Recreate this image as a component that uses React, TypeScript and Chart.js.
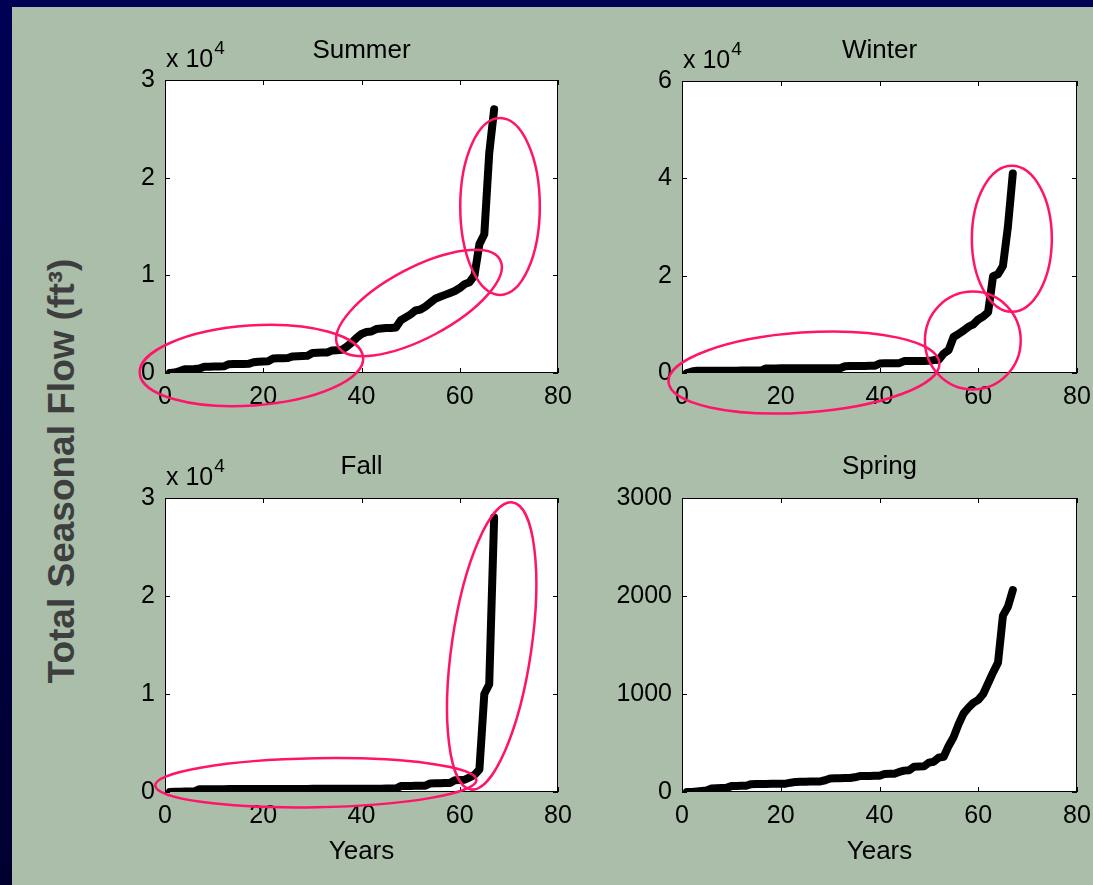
import React, { useEffect, useRef } from 'react';
import { Chart, registerables } from 'chart.js';

Chart.register(...registerables);

// ---------------- data ----------------
const YEARS = Array.from({ length: 67 }, (_, i) => i + 1);

const SUMMER_FLOW = [
  0, 50, 200, 380, 380, 400, 450, 640, 650, 660,
  670, 680, 900, 910, 920, 930, 940, 1100, 1150, 1170,
  1200, 1480, 1500, 1520, 1540, 1700, 1720, 1740, 1760, 2050,
  2070, 2090, 2100, 2300, 2340, 2380, 2700, 3100, 3600, 4000,
  4200, 4250, 4500, 4550, 4600, 4600, 4650, 5400, 5700, 6000,
  6400, 6500, 6800, 7200, 7600, 7800, 8000, 8200, 8400, 8700,
  9100, 9300, 10000, 13200, 14200, 22500, 27000,
];

const WINTER_FLOW = [
  0, 300, 450, 460, 460, 470, 470, 470, 480, 480,
  480, 490, 490, 490, 500, 500, 950, 950, 950, 960,
  960, 960, 960, 970, 970, 970, 970, 980, 980, 980,
  990, 990, 1400, 1420, 1440, 1450, 1460, 1470, 1480, 1950,
  1980, 2000, 2010, 2020, 2450, 2460, 2470, 2480, 2490, 2500,
  2650, 2700, 4000, 4700, 7400, 8000, 8700, 9500, 10000, 11000,
  11600, 12500, 19900, 20300, 22000, 30000, 41000,
];

const FALL_FLOW = [
  0, 20, 30, 40, 50, 60, 280, 285, 285, 290,
  290, 290, 295, 295, 295, 300, 300, 300, 300, 305,
  305, 305, 310, 310, 310, 310, 315, 315, 315, 320,
  320, 320, 325, 325, 325, 330, 330, 330, 335, 335,
  335, 340, 340, 340, 345, 345, 350, 600, 610, 620,
  630, 640, 650, 880, 890, 900, 910, 920, 1200, 1220,
  1250, 1500, 1750, 2300, 10000, 11000, 28000,
];

const SPRING_FLOW = [
  0, 0, 5, 10, 15, 35, 38, 40, 42, 60,
  62, 63, 64, 80, 81, 82, 82, 83, 83, 84,
  85, 95, 103, 104, 105, 106, 107, 108, 120, 138,
  140, 141, 142, 143, 150, 162, 163, 164, 165, 166,
  183, 185, 187, 205, 218, 222, 258, 260, 262, 300,
  309, 350, 360, 470, 560, 690, 800, 860, 910, 940,
  1000, 1110, 1220, 1320, 1800, 1890, 2060,
];

// highlighted regions: centre (year, flow), semi-axes (years, flow), rotation (deg)
const SUMMER_ELLIPSES = [
  { x: 17.6, y: 770, rx: 22.8, ry: 4100, rot: -4 },
  { x: 51.7, y: 7170, rx: 18.7, ry: 3600, rot: -28 },
  { x: 68.2, y: 17050, rx: 8.1, ry: 9060, rot: 0 },
];
const WINTER_ELLIPSES = [
  { x: 24.7, y: 100, rx: 27.5, ry: 8220, rot: -4 },
  { x: 58.9, y: 6680, rx: 9.7, ry: 10070, rot: 0 },
  { x: 66.8, y: 27570, rx: 8.1, ry: 15000, rot: 0 },
];
const FALL_ELLIPSES = [
  { x: 30.7, y: 940, rx: 32.7, ry: 2500, rot: -1 },
  { x: 66.5, y: 14900, rx: 8.1, ry: 14800, rot: 8.3 },
];
const SPRING_ELLIPSES: any[] = [];

const X_MIN = 0;
const X_MAX = 80;
const X_STEP = 20;

// ---------------- styling ----------------
const FONT = '"Liberation Sans", Arial, Helvetica, sans-serif';
const SAGE = '#aabeaa';
const ELLIPSE_COLOR = '#ff1469';
const Y_AXIS_W = 110;
const X_AXIS_H = 80;
const PAD_TOP = 75;
const PAD_RIGHT = 50;

const PANELS = [
  { key: 'summer', title: 'Summer', values: SUMMER_FLOW, yMax: 30000, yStep: 10000, divisor: 10000, exponent: '4', ellipses: SUMMER_ELLIPSES, xTitle: '', box: { left: 165, top: 80, width: 393, height: 293 }, titleOffset: 29 },
  { key: 'winter', title: 'Winter', values: WINTER_FLOW, yMax: 60000, yStep: 20000, divisor: 10000, exponent: '4', ellipses: WINTER_ELLIPSES, xTitle: '', box: { left: 682, top: 81, width: 395, height: 292 }, titleOffset: 30 },
  { key: 'fall', title: 'Fall', values: FALL_FLOW, yMax: 30000, yStep: 10000, divisor: 10000, exponent: '4', ellipses: FALL_ELLIPSES, xTitle: 'Years', box: { left: 165, top: 498, width: 393, height: 294 }, titleOffset: 31 },
  { key: 'spring', title: 'Spring', values: SPRING_FLOW, yMax: 3000, yStep: 1000, divisor: 1, exponent: '', ellipses: SPRING_ELLIPSES, xTitle: 'Years', box: { left: 682, top: 498, width: 395, height: 294 }, titleOffset: 31 },
];

const matlabPlugin = {
  id: 'matlabBox',
  beforeDraw(chart: any) {
    const { ctx, chartArea: a } = chart;
    ctx.save();
    ctx.fillStyle = '#ffffff';
    ctx.fillRect(a.left, a.top, a.right - a.left, a.bottom - a.top);
    ctx.restore();
  },
  afterDraw(chart: any, _args: any, opts: any) {
    const { ctx, chartArea: a, scales } = chart;
    const xs = scales.x;
    const ys = scales.y;
    ctx.save();
    // box
    ctx.strokeStyle = '#000';
    ctx.lineWidth = 1;
    ctx.strokeRect(a.left + 0.5, a.top + 0.5, a.right - a.left - 1, a.bottom - a.top - 1);
    // inward ticks
    const tl = 5;
    ctx.beginPath();
    xs.ticks.forEach((t: any) => {
      const px = Math.round(xs.getPixelForValue(t.value)) + 0.5;
      ctx.moveTo(px, a.bottom);
      ctx.lineTo(px, a.bottom - tl);
      ctx.moveTo(px, a.top);
      ctx.lineTo(px, a.top + tl);
    });
    ys.ticks.forEach((t: any) => {
      const py = Math.round(ys.getPixelForValue(t.value)) + 0.5;
      ctx.moveTo(a.left, py);
      ctx.lineTo(a.left + tl, py);
      ctx.moveTo(a.right, py);
      ctx.lineTo(a.right - tl, py);
    });
    ctx.stroke();

    // ellipses
    ctx.strokeStyle = ELLIPSE_COLOR;
    ctx.lineWidth = 2.5;
    (opts.ellipses || []).forEach((e: any) => {
      const cx = xs.getPixelForValue(e.x);
      const cy = ys.getPixelForValue(e.y);
      const rx = Math.abs(xs.getPixelForValue(e.x + e.rx) - cx);
      const ry = Math.abs(ys.getPixelForValue(e.y + e.ry) - cy);
      ctx.beginPath();
      ctx.ellipse(cx, cy, rx, ry, (e.rot * Math.PI) / 180, 0, Math.PI * 2);
      ctx.stroke();
    });

    // title
    ctx.fillStyle = '#000';
    ctx.font = `26px ${FONT}`;
    ctx.textAlign = 'center';
    ctx.textBaseline = 'middle';
    ctx.fillText(opts.title, (a.left + a.right) / 2, a.top - opts.titleOffset);

    // exponent
    if (opts.exponent) {
      ctx.textAlign = 'left';
      ctx.textBaseline = 'alphabetic';
      ctx.font = `25px ${FONT}`;
      const base = 'x 10';
      ctx.fillText(base, a.left + 1, a.top - 13);
      const w = ctx.measureText(base).width;
      ctx.font = `19px ${FONT}`;
      ctx.fillText(opts.exponent, a.left + 2 + w, a.top - 26);
    }
    ctx.restore();
  },
};

function Panel({ panel }: { panel: any }) {
  const ref = useRef<HTMLCanvasElement>(null);
  const W = panel.box.width + Y_AXIS_W + PAD_RIGHT;
  const H = panel.box.height + PAD_TOP + X_AXIS_H;
  useEffect(() => {
    const canvas = ref.current!;
    const tickFont = { family: FONT, size: 25 };
    const chart = new Chart(canvas, {
      type: 'line',
      data: {
        datasets: [
          {
            data: panel.values.map((v: number, i: number) => ({ x: YEARS[i], y: v })),
            borderColor: '#000000',
            borderWidth: 8,
            pointRadius: 0,
            tension: 0,
            fill: false,
            borderCapStyle: 'round',
            borderJoinStyle: 'round',
          } as any,
        ],
      },
      options: {
        responsive: false,
        animation: false,
        events: [],
        layout: { padding: { left: 0, top: PAD_TOP, right: PAD_RIGHT, bottom: 0 } },
        plugins: {
          legend: { display: false },
          tooltip: { enabled: false },
          title: { display: false },
          matlabBox: {
            title: panel.title,
            titleOffset: panel.titleOffset,
            exponent: panel.exponent,
            ellipses: panel.ellipses,
          },
        } as any,
        scales: {
          x: {
            type: 'linear',
            min: X_MIN,
            max: X_MAX,
            ticks: {
              stepSize: X_STEP,
              padding: 9,
              font: tickFont,
              color: '#000',
              maxRotation: 0,
              autoSkip: false,
              callback: (v: any) => String(v),
            },
            grid: { display: false, drawTicks: false },
            border: { display: false },
            title: {
              display: !!panel.xTitle,
              text: panel.xTitle,
              font: { family: FONT, size: 26 },
              color: '#000',
              padding: { top: 0, bottom: 5 },
            },
            afterFit: (s: any) => {
              s.height = X_AXIS_H;
            },
          },
          y: {
            type: 'linear',
            min: 0,
            max: panel.yMax,
            ticks: {
              stepSize: panel.yStep,
              padding: 10,
              font: tickFont,
              color: '#000',
              autoSkip: false,
              callback: (v: any) => String(Number(v) / panel.divisor),
            },
            grid: { display: false, drawTicks: false },
            border: { display: false },
            afterFit: (s: any) => {
              s.width = Y_AXIS_W;
            },
          },
        },
      } as any,
      plugins: [matlabPlugin as any],
    });
    return () => chart.destroy();
  }, []);
  return (
    <canvas
      ref={ref}
      width={W}
      height={H}
      style={{
        position: 'absolute',
        left: panel.box.left - Y_AXIS_W,
        top: panel.box.top - PAD_TOP,
        width: W,
        height: H,
      }}
    />
  );
}

export default function App() {
  return (
    <div
      style={{
        position: 'fixed',
        left: 0,
        top: 0,
        width: 1093,
        height: 885,
        overflow: 'hidden',
        background: 'linear-gradient(#000055, #000030)',
      }}
    >
      <div style={{ position: 'absolute', left: 12, top: 7, right: 0, bottom: 0, background: SAGE }} />
      <div
        style={{
          position: 'absolute',
          left: 62,
          top: 471,
          transform: 'translate(-50%, -50%) rotate(-90deg)',
          whiteSpace: 'nowrap',
          fontFamily: FONT,
          fontWeight: 'bold',
          fontSize: 37,
          color: '#3e3e3e',
          lineHeight: 'normal',
        }}
      >
        Total Seasonal Flow (ft³)
      </div>
      {PANELS.map((p) => (
        <Panel key={p.key} panel={p} />
      ))}
    </div>
  );
}
